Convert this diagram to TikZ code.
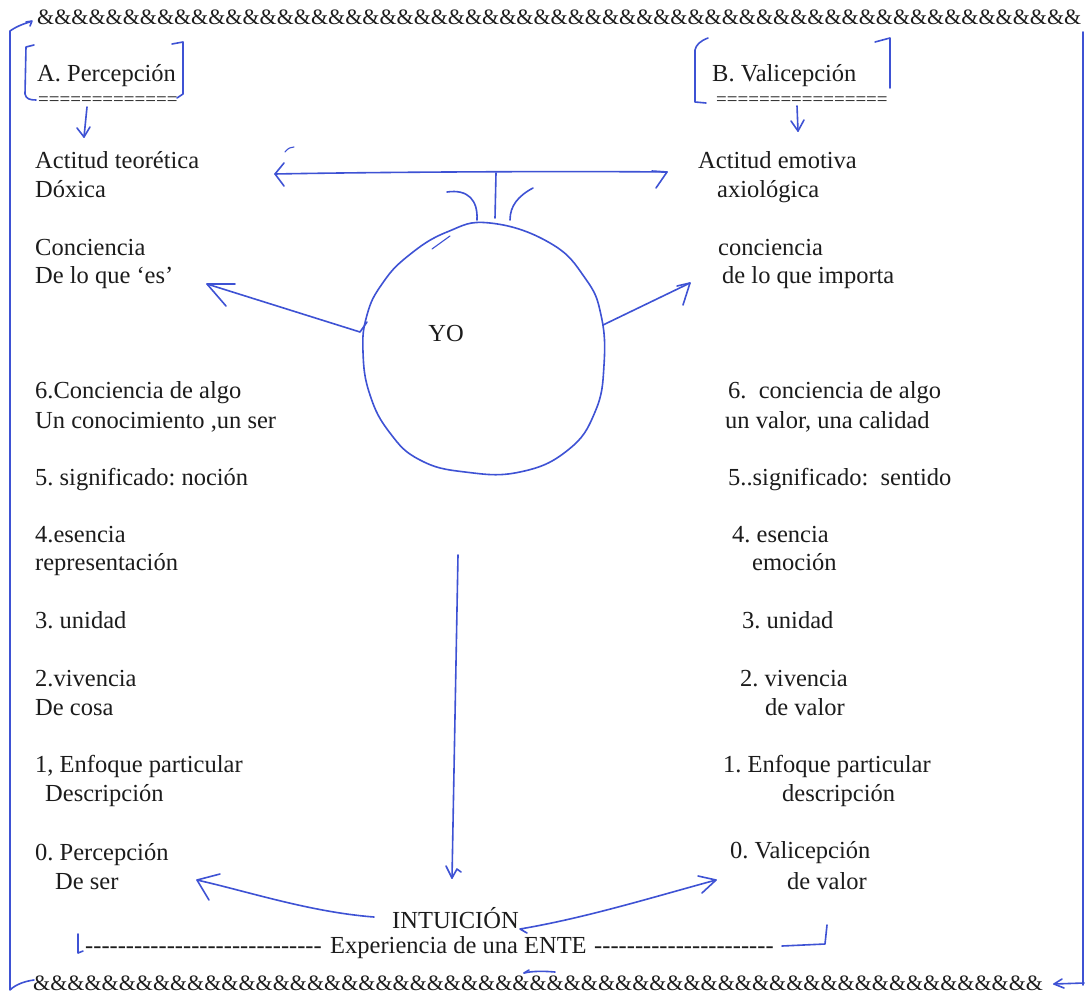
\documentclass[tikz,border=0pt]{standalone}
\usepackage{fontspec}
\setmainfont{Liberation Serif}
\usetikzlibrary{arrows.meta}
\definecolor{ink}{RGB}{62,82,212}
\definecolor{typeink}{RGB}{28,28,28}

\tikzset{
  pen/.style={draw=ink, line width=1.6pt, line cap=round, line join=round},
  thinpen/.style={draw=ink, line width=1.1pt, line cap=round, line join=round},
  txt/.style={anchor=base west, inner sep=0pt, text=typeink, font=\fontsize{24.5}{29}\selectfont\frenchspacing},
  amprow/.style={anchor=base west, inner sep=0pt, text=typeink, font=\fontsize{22}{24}\selectfont},
  eqrow/.style={anchor=base west, inner sep=0pt, text=typeink, font=\fontsize{19}{22}\selectfont},
}

\newcommand\repchar[2]{\foreach \k in {1,...,#1}{\hbox{#2}}}

\begin{document}
\begin{tikzpicture}[x=1pt,y=-1pt]
\useasboundingbox (0,0) rectangle (1086,1006);
\fill[white] (0,0) rectangle (1086,1006);

% ampersand rules, top and bottom
\node[amprow] (toprow) at (37,25) {\repchar{61}{\&}};
\node[amprow] (botrow) at (33,990) {\repchar{59}{\&}};

% hand-drawn frame
\draw[pen] (30,22) .. controls (22,24) and (14,28) .. (10,31) -- (10,990) .. controls (16,984) and (26,981) .. (34,980);
\draw[pen] (26,22) -- (32,21) -- (30,26);
\draw[pen] (1083,32) -- (1083,985);
\coordinate (botend) at (1084,983);
\coordinate (bottip) at (1054,984);
\draw[pen] (botend) -- (bottip);
\draw[pen] (1062,979) -- (bottip) -- (1064,988);

% headings
\node[txt] (hA) at (37,82) {A. Percepción};
\node[eqrow] (eqA) at (38,105.5) {\repchar{13}{=}};
\node[txt] (hB) at (712,82) {B. Valicepción};
\node[eqrow] (eqB) at (716,105.5) {\repchar{16}{=}};

% brackets round the headings
\draw[pen] (34,45) -- (26,47) -- (25,94) .. controls (26,99) and (30,100) .. (36,100);
\draw[pen] (172,44) -- (183,42) -- (183,94) -- (177,98);
\draw[pen] (708,38) .. controls (700,41) and (696,45) .. (695,50) -- (695,102) -- (706,103);
\draw[pen] (875,42) -- (890,38) -- (890,88);

% left column
\node[txt] (lA1) at (35,168) {Actitud teorética};
\node[txt] (lA2) at (35,197) {Dóxica};
\node[txt] (lC1) at (35,255) {Conciencia};
\node[txt] (lC2) at (35,283) {De lo que ‘es’};
\node[txt] (l6a) at (35,398) {6.Conciencia de algo};
\node[txt] (l6b) at (35,428) {Un conocimiento ,un ser};
\node[txt] (l5)  at (35,485) {5. significado: noción};
\node[txt] (l4a) at (35,542) {4.esencia};
\node[txt] (l4b) at (35,570) {representación};
\node[txt] (l3)  at (35,628) {3. unidad};
\node[txt] (l2a) at (35,686) {2.vivencia};
\node[txt] (l2b) at (35,715) {De cosa};
\node[txt] (l1a) at (35,772) {1, Enfoque particular};
\node[txt] (l1b) at (45,801) {Descripción};
\node[txt] (l0a) at (35,860) {0. Percepción};
\node[txt] (l0b) at (55,889) {De ser};

% right column
\node[txt] (rA1) at (698,168) {Actitud emotiva};
\node[txt] (rA2) at (717,197) {axiológica};
\node[txt] (rC1) at (718,255) {conciencia};
\node[txt] (rC2) at (722,283) {de lo que importa};
\node[txt] (r6a) at (728,398) {6.\ \ conciencia de algo};
\node[txt] (r6b) at (725,428) {un valor, una calidad};
\node[txt] (r5)  at (728,485) {5..significado:\ \ sentido};
\node[txt] (r4a) at (732,542) {4. esencia};
\node[txt] (r4b) at (752,570) {emoción};
\node[txt] (r3)  at (742,628) {3. unidad};
\node[txt] (r2a) at (740,686) {2. vivencia};
\node[txt] (r2b) at (765,715) {de valor};
\node[txt] (r1a) at (723,772) {1. Enfoque particular};
\node[txt] (r1b) at (782,801) {descripción};
\node[txt] (r0a) at (730,858) {0. Valicepción};
\node[txt] (r0b) at (787,889) {de valor};

% centre: the self
\node[txt, anchor=base] (yo) at (446,341) {YO};
\draw[pen] plot[smooth cycle, tension=0.75] coordinates {
  (490,223) (550,243) (585,278) (601,315) (604,365) (595,412) (568,450)
  (520,472) (465,472) (420,460) (390,433) (370,395) (363,352) (367,315)
  (382,284) (408,256) (447,232)};
\draw[thinpen] (432,249) -- (450,236);

% bottom lines
\node[txt] (intu) at (392,928) {INTUICIÓN};
\node[txt] (exp) at (330,953) {Experiencia de una ENTE};
\node[txt, anchor=base east] (dashL) at (322,953) {\repchar{29}{-}};
\node[txt] (dashR) at (594,953) {\repchar{22}{-}};
\draw[pen] (78,934) -- (78,953) -- (83,951);
\coordinate (brkA) at (782,946);
\coordinate (brkB) at (825,944);
\coordinate (brkC) at (827,925);
\draw[pen] (brkA) -- (brkB) -- (brkC);
\draw[pen] (524,973) .. controls (532,971) and (544,971) .. (555,972);
\draw[pen] (524,973) -- (529,970);

% connectors from the headings
\coordinate (aTop) at (87,107);
\coordinate (aTip) at (84,137);
\draw[pen] (aTop) -- (aTip);
\draw[pen] (77,128) -- (aTip) -- (90,127);
\coordinate (bTop) at (797,106);
\coordinate (bTip) at (798,131);
\draw[pen] (bTop) -- (bTip);
\draw[pen] (791,121) -- (bTip) -- (804,120);

% attitude arrow over the self
\coordinate (hL) at (275,174);
\coordinate (hR) at (667,172);
\coordinate (hM) at (496,173);
\draw[pen] (hL) .. controls (380,172) and (560,171) .. (hR);
\draw[pen] (284,163) -- (hL) -- (284,186);
\draw[pen] (652,171) -- (hR) -- (656,188);
\draw[thinpen] (285,152) .. controls (288,148) and (291,147) .. (294,147);
\coordinate (stemB) at (495,218);
\draw[pen] (hM) -- (stemB);
\draw[pen] (447,192) .. controls (468,189) and (478,200) .. (477,220);
\draw[pen] (533,188) .. controls (518,196) and (510,206) .. (510,220);

% consciousness arrows
\coordinate (cL) at (367,322);
\coordinate (cLtip) at (207,284);
\draw[pen] (cL) -- (360,332) -- (cLtip);
\draw[pen] (235,284) -- (cLtip) -- (226,306);
\coordinate (cR) at (603,325);
\coordinate (cRtip) at (690,283);
\draw[pen] (cR) -- (cRtip);
\draw[pen] (677,286) -- (cRtip) -- (683,305);

% descent to intuition
\coordinate (vTop) at (458,555);
\coordinate (vTip) at (452,878);
\draw[pen] (vTop) -- (vTip);
\draw[pen] (446,866) -- (vTip) -- (457,869) -- (461,872);

% intuition to the two perceptions
\coordinate (iL) at (374,917);
\coordinate (iLtip) at (197,880);
\draw[pen] (iL) .. controls (310,912) and (250,892) .. (iLtip);
\draw[pen] (220,874) -- (iLtip) -- (209,900);
\coordinate (iR) at (520,929);
\coordinate (iRtip) at (716,880);
\draw[pen] (527,933) -- (iR) .. controls (585,918) and (650,898) .. (iRtip);
\draw[pen] (698,876) -- (iRtip) -- (702,893);
\end{tikzpicture}
\end{document}
